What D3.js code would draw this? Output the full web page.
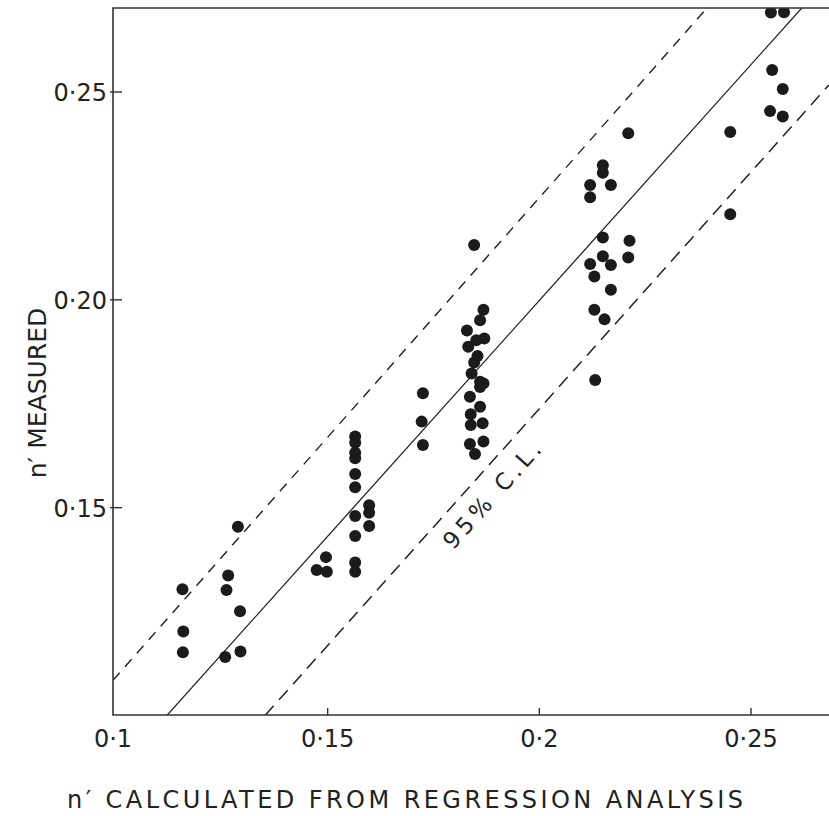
<!DOCTYPE html>
<html>
<head>
<meta charset="utf-8">
<script src="https://cdn.jsdelivr.net/npm/d3@7"></script>
<style>
  body { margin: 0; background: #fff; }
  svg { display: block; }
  text { font-family: "DejaVu Sans", sans-serif; fill: #222; }
</style>
</head>
<body>
<div class="chart"></div>
<script>
// measured points: [calculated, measured]
const calculated = [
  0.1157, 0.1159, 0.1158, 0.1288, 0.1265, 0.1261, 0.1293, 0.1258, 0.1294,
  0.1565, 0.1565, 0.1565, 0.1565, 0.1565, 0.1565, 0.1565, 0.1565, 0.1565, 0.1565,
  0.1598, 0.1598, 0.1598, 0.1496, 0.1474, 0.1498,
  0.1725, 0.1722, 0.1725,
  0.1846, 0.1868, 0.1860, 0.1829, 0.1870, 0.1851, 0.1832, 0.1854, 0.1846, 0.1840,
  0.1860, 0.1868, 0.1860, 0.1836, 0.1860, 0.1838, 0.1866, 0.1838, 0.1868, 0.1836, 0.1848,
  0.2210, 0.2150, 0.2150, 0.2120, 0.2169, 0.2120, 0.2150, 0.2213, 0.2150, 0.2210,
  0.2120, 0.2169, 0.2130, 0.2169, 0.2130, 0.2154, 0.2132,
  0.2451, 0.2547, 0.2578, 0.2550, 0.2575, 0.2545, 0.2575, 0.2451
];
const measured = [
  0.1304, 0.1202, 0.1152, 0.1454, 0.1337, 0.1302, 0.1251, 0.1141, 0.1154,
  0.1671, 0.1656, 0.1632, 0.1619, 0.1581, 0.1549, 0.1480, 0.1432, 0.1368, 0.1346,
  0.1506, 0.1488, 0.1456, 0.1381, 0.1350, 0.1346,
  0.1775, 0.1707, 0.1651,
  0.2132, 0.1976, 0.1951, 0.1926, 0.1907, 0.1903, 0.1887, 0.1865, 0.1849, 0.1823,
  0.1803, 0.1799, 0.1790, 0.1767, 0.1743, 0.1725, 0.1703, 0.1699, 0.1659, 0.1653, 0.1629,
  0.2401, 0.2324, 0.2306, 0.2276, 0.2276, 0.2247, 0.2150, 0.2142, 0.2105, 0.2102,
  0.2086, 0.2084, 0.2056, 0.2024, 0.1976, 0.1953, 0.1807,
  0.2404, 0.2691, 0.2692, 0.2553, 0.2507, 0.2454, 0.2441, 0.2206
];
const points = calculated.map((c, i) => [c, measured[i]]);

// regression line and 95% confidence limits, end points in data units
const fitLine = [[0.1120, 0.100], [0.2620, 0.2702]];
const upperCL = [[0.0993, 0.1085], [0.2396, 0.2702]];
const lowerCL = [[0.1352, 0.100], [0.2684, 0.2517]];

const xTicks = [0.1, 0.15, 0.2, 0.25];
const xTickLabels = ['0·1', '0·15', '0·2', '0·25'];
const yTicks = [0.15, 0.2, 0.25];
const yTickLabels = ['0·15', '0·20', '0·25'];

const width = 829, height = 816;
const frameLeft = 113, frameTop = 8, frameBottom = 715;

const x = d3.scaleLinear().domain([0.1, 0.25]).range([116, 751]);
const y = d3.scaleLinear().domain([0.1, 0.25]).range([715.5, 92]);

const svg = d3.select('.chart')
.append('svg')
.attr('width', width)
.attr('height', height);

svg.append('clipPath')
.attr('id', 'plot-clip')
.append('rect')
.attr('x', frameLeft)
.attr('y', frameTop)
.attr('width', width - frameLeft)
.attr('height', frameBottom - frameTop);

const plot = svg.append('g').attr('clip-path', 'url(#plot-clip)');

const line = d3.line().x(d => x(d[0])).y(d => y(d[1]));

plot.append('path')
.attr('d', line(fitLine))
.attr('fill', 'none')
.attr('stroke', '#222')
.attr('stroke-width', 1.3);

plot.append('path')
.attr('d', line(upperCL))
.attr('fill', 'none')
.attr('stroke', '#222')
.attr('stroke-width', 1.4)
.attr('stroke-dasharray', '10 8');

plot.append('path')
.attr('d', line(lowerCL))
.attr('fill', 'none')
.attr('stroke', '#222')
.attr('stroke-width', 1.5)
.attr('stroke-dasharray', '13 8');

plot.append('g')
.selectAll('circle')
.data(points)
.enter()
.append('circle')
.attr('cx', d => x(d[0]))
.attr('cy', d => y(d[1]))
.attr('r', 6)
.attr('fill', '#1b1b1b');

// frame: left, top, bottom
svg.append('path')
.attr('d', `M${width},${frameTop}H${frameLeft}V${frameBottom}H${width}`)
.attr('fill', 'none')
.attr('stroke', '#333')
.attr('stroke-width', 1.6);

// ticks
svg.append('g')
.selectAll('line')
.data(xTicks.slice(1))
.enter()
.append('line')
.attr('x1', d => x(d)).attr('x2', d => x(d))
.attr('y1', frameBottom).attr('y2', frameBottom - 7)
.attr('stroke', '#333').attr('stroke-width', 1.4);

svg.append('g')
.selectAll('line')
.data(yTicks)
.enter()
.append('line')
.attr('x1', frameLeft - 3).attr('x2', frameLeft + 9)
.attr('y1', d => y(d)).attr('y2', d => y(d))
.attr('stroke', '#333').attr('stroke-width', 1.4);

svg.append('g')
.selectAll('text')
.data(xTicks)
.enter()
.append('text')
.attr('x', (d, i) => i === 0 ? frameLeft : x(d))
.attr('y', 747)
.attr('text-anchor', 'middle')
.style('font-size', '24px')
.text((d, i) => xTickLabels[i]);

svg.append('g')
.selectAll('text')
.data(yTicks)
.enter()
.append('text')
.attr('x', 107)
.attr('y', d => y(d) + 9)
.attr('text-anchor', 'end')
.style('font-size', '24px')
.text((d, i) => yTickLabels[i]);

// axis titles
svg.append('text')
.attr('x', 67)
.attr('y', 808)
.attr('textLength', 676)
.attr('lengthAdjust', 'spacing')
.style('font-size', '24px')
.text('n′ CALCULATED FROM REGRESSION ANALYSIS');

svg.append('text')
.attr('transform', 'translate(46,393) rotate(-90)')
.attr('text-anchor', 'middle')
.style('font-size', '25px')
.text('n′ MEASURED');

// label along the lower limit
const angle = Math.atan2(y(lowerCL[1][1]) - y(lowerCL[0][1]), x(lowerCL[1][0]) - x(lowerCL[0][0])) * 180 / Math.PI;

svg.append('text')
.attr('transform', `translate(${x(0.1888)},${y(0.1530)}) rotate(${angle})`)
.attr('text-anchor', 'middle')
.attr('dy', '0.35em')
.attr('textLength', 134)
.attr('lengthAdjust', 'spacing')
.style('font-size', '23px')
.text('95% C.L.');
</script>
</body>
</html>
